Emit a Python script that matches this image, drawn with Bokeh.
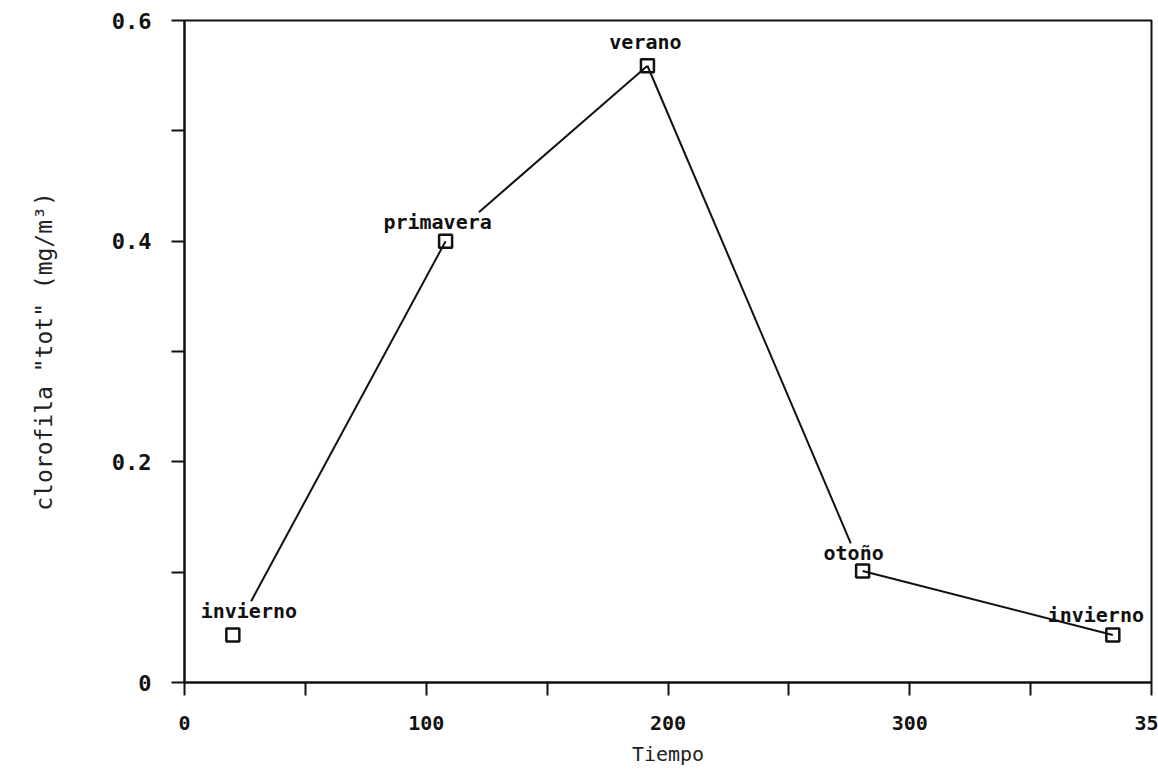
from bokeh.plotting import figure
from bokeh.models import Range1d, FixedTicker, ColumnDataSource
from bokeh.core.properties import value
from bokeh.embed import file_html
from bokeh.resources import INLINE

# ---- data ----
tiempo = [20, 108, 191.5, 280.5, 384]
clorofila = [0.043, 0.40, 0.559, 0.101, 0.043]
estaciones = ["invierno", "primavera", "verano", "otoño", "invierno"]

x_ticks = [0, 100, 200, 300, 400]
x_tick_labels = ["0", "100", "200", "300", "35"]
y_ticks = [0, 0.2, 0.4, 0.6]
y_tick_labels = ["0", "0.2", "0.4", "0.6"]

# ---- styling (label offsets in screen px, line trims as fractions) ----
lab_dx = [16, -8, -2, -9, -17]
lab_dy = [-24, -19, -24, -18, -20]
trim_start = [0.086, 0.165, 0.0, 0.0]
trim_end = [0.0, 0.0, 0.055, 0.0]

FONT = "DejaVu Sans Mono"

p = figure(width=1158, height=768,
           x_range=Range1d(0, 400), y_range=Range1d(0, 0.6),
           output_backend="svg", toolbar_location=None,
           min_border_left=184, min_border_right=7,
           min_border_top=20, min_border_bottom=83)
p.background_fill_color = "white"
p.border_fill_color = "white"
p.xgrid.visible = False
p.ygrid.visible = False
p.outline_line_color = "#111111"
p.outline_line_width = 2

# axes
for ax in (p.xaxis[0], p.yaxis[0]):
    ax.axis_line_color = "#111111"
    ax.axis_line_width = 2
    ax.major_tick_line_color = "#111111"
    ax.minor_tick_line_color = "#111111"
    ax.major_tick_line_width = 2
    ax.minor_tick_line_width = 2
    ax.major_tick_in = 0
    ax.minor_tick_in = 0
    ax.major_tick_out = 13
    ax.minor_tick_out = 13
    ax.major_label_text_font = FONT
    ax.major_label_text_color = "#111111"
    ax.major_label_text_font_style = "bold"
    ax.axis_label_text_font = FONT
    ax.axis_label_text_font_style = "normal"
    ax.axis_label_text_color = "#222222"

p.xaxis.ticker = FixedTicker(ticks=x_ticks, minor_ticks=[50, 150, 250, 350])
p.xaxis.major_label_overrides = dict(zip(x_ticks, x_tick_labels))
p.xaxis.major_label_text_font_size = "20px"
p.xaxis.major_label_standoff = 20
p.xaxis.axis_label = "Tiempo"
p.xaxis.axis_label_text_font_size = "20px"
p.xaxis.axis_label_standoff = 9

p.yaxis.ticker = FixedTicker(ticks=y_ticks, minor_ticks=[0.1, 0.3, 0.5])
p.yaxis.major_label_overrides = dict(zip(y_ticks, y_tick_labels))
p.yaxis.major_label_text_font_size = "22px"
p.yaxis.major_label_standoff = 20
p.yaxis.axis_label = "clorofila \"tot\" (mg/m³)"
p.yaxis.axis_label_text_font_size = "23px"
p.yaxis.axis_label_standoff = 52

# line segments between consecutive points, trimmed where labels sit
x0, y0, x1, y1 = [], [], [], []
for i in range(len(tiempo) - 1):
    dx = tiempo[i + 1] - tiempo[i]
    dy = clorofila[i + 1] - clorofila[i]
    s, e = trim_start[i], 1 - trim_end[i]
    x0.append(tiempo[i] + s * dx)
    y0.append(clorofila[i] + s * dy)
    x1.append(tiempo[i] + e * dx)
    y1.append(clorofila[i] + e * dy)
p.segment(x0=x0, y0=y0, x1=x1, y1=y1, line_color="#111111", line_width=2)

src = ColumnDataSource(dict(x=tiempo, y=clorofila, t=estaciones,
                            dx=lab_dx, dy=lab_dy))
p.scatter("x", "y", source=src, marker="square", size=13,
          fill_color=None, line_color="#111111", line_width=2.5)
p.text("x", "y", text="t", source=src, x_offset="dx", y_offset="dy",
       text_align="center", text_baseline="middle",
       text_font=value(FONT), text_font_size="20px",
       text_font_style="bold", text_color="#111111")

open("out.html", "w").write(file_html(p, INLINE))
